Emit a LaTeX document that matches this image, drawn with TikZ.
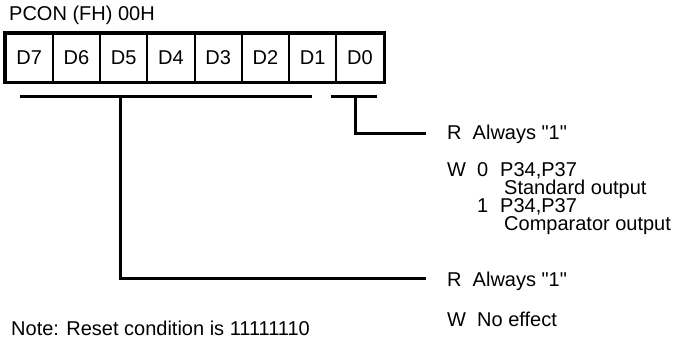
\documentclass[tikz,border=0pt]{standalone}
\usepackage{fontspec}
\setmainfont{Liberation Sans}[Ligatures=TeXOff]
\begin{document}
\begin{tikzpicture}[
    x=1pt, y=-1pt,
    every node/.style={font=\fontsize{20}{22}\selectfont, inner sep=0pt},
    bitcell/.style={draw, line width=2pt, minimum width=47.25pt, minimum height=48pt, anchor=north west},
    txt/.style={anchor=base west},
    bracket/.style={line width=3pt},
  ]
    \useasboundingbox (0,0) rectangle (680,339);
    %% Register name
    \node[txt] (title) at (9,21) {PCON (FH) 00H};
    %% Bit cells
    \foreach \b [count=\i from 0] in {7,6,5,4,3,2,1,0}
      \node[bitcell] (d\b) at (4.5+47.25*\i,33) {D\b};
    \draw[line width=3pt] (d7.north west) rectangle (d0.south east);
    %% Bracket ends
    \coordinate (hiL) at (20,97);
    \coordinate (hiR) at (312,97);
    \coordinate (hiM) at (120,97);
    \coordinate (loL) at (331,97);
    \coordinate (loR) at (377,97);
    \coordinate (loM) at (355,97);
    %% D0 description
    \node[txt] (r0) at (447,140) {R\ \ Always "1"};
    \node[txt] (w0) at (447,177) {W};
    \node[txt] (w0a) at (477,177) {0};
    \node[txt] (w0b) at (500,177) {P34,P37};
    \node[txt] (w0c) at (504,195) {Standard output};
    \node[txt] (w1a) at (477,213) {1};
    \node[txt] (w1b) at (500,213) {P34,P37};
    \node[txt] (w1c) at (504,231) {Comparator output};
    %% D7-D1 description
    \node[txt] (rhi) at (447,286) {R\ \ Always "1"};
    \node[txt] (whi) at (447,326) {W\ \ No effect};
    %% Note
    \node[txt] (note) at (11,335) {Note: Reset condition is 11111110};
    %% Connectors
    \coordinate (r0e) at ([xshift=-21pt]r0.west |- 0,134);
    \coordinate (rhie) at ([xshift=-21pt]rhi.west |- 0,278);
    \draw[bracket] (hiL) -- (hiR);
    \draw[bracket] (loL) -- (loR);
    \draw[bracket] (loM) |- (r0e);
    \draw[bracket] (hiM) |- (rhie);
  \end{tikzpicture}
\end{document}
